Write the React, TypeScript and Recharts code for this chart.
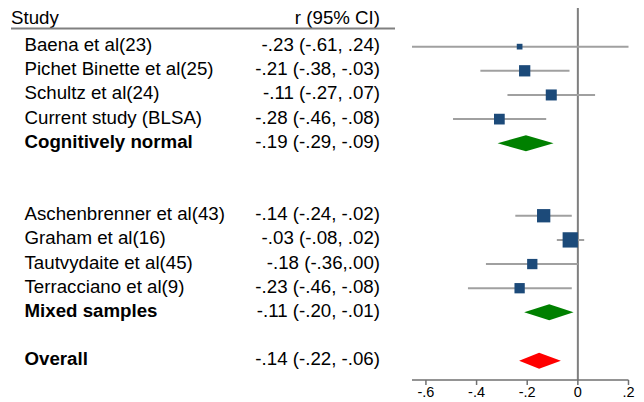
import React from "react";
import {
  ScatterChart,
  Scatter,
  XAxis,
  YAxis,
  ReferenceLine,
  ReferenceArea,
  Customized,
} from "recharts";

// ---- data ----
const studyNames = [
  "Baena et al(23)",
  "Pichet Binette et al(25)",
  "Schultz et al(24)",
  "Current study (BLSA)",
  "Aschenbrenner et al(43)",
  "Graham et al(16)",
  "Tautvydaite et al(45)",
  "Terracciano et al(9)",
];
const studyCI = [
  "-.23 (-.61, .24)",
  "-.21 (-.38, -.03)",
  "-.11 (-.27, .07)",
  "-.28 (-.46, -.08)",
  "-.14 (-.24, -.02)",
  "-.03 (-.08, .02)",
  "-.18 (-.36,.00)",
  "-.23 (-.46, -.08)",
];
const studyRow = [0, 1, 2, 3, 7, 8, 9, 10];
const studyEst = [-0.23, -0.21, -0.105, -0.31, -0.135, -0.03, -0.18, -0.23];
const studyLo = [-0.71, -0.385, -0.278, -0.493, -0.247, -0.083, -0.363, -0.434];
const studyHi = [0.245, -0.033, 0.068, -0.125, -0.024, 0.025, 0.0, -0.024];
const studyWeight = [3.2, 12.5, 11.9, 11.3, 17.4, 23.0, 10.4, 10.4];

const poolNames = ["Cognitively normal", "Mixed samples", "Overall"];
const poolCI = ["-.19 (-.29, -.09)", "-.11 (-.20, -.01)", "-.14 (-.22, -.06)"];
const poolRow = [4, 11, 13];
const poolEst = [-0.205, -0.113, -0.153];
const poolLo = [-0.317, -0.212, -0.232];
const poolHi = [-0.096, -0.017, -0.067];

const xTicks = [-0.6, -0.4, -0.2, 0, 0.2];
const xTickLabels = ["-.6", "-.4", "-.2", "0", ".2"];

// ---- styles ----
const FONT = "'Liberation Sans', Arial, Helvetica, sans-serif";
const POOL_COLORS = ["#008000", "#008000", "#ff0000"];
const SQUARE_COLOR = "#1c4a79";
const CI_COLOR = "#a0a0a0";
const TXT = 18.7;

const scatterData = studyEst.map((x, i) => ({ x, y: studyRow[i], w: studyWeight[i] }));

const rowInfo = new Map<number, { name: string; ci: string; bold: boolean }>();
studyRow.forEach((r, i) => rowInfo.set(r, { name: studyNames[i], ci: studyCI[i], bold: false }));
poolRow.forEach((r, i) => rowInfo.set(r, { name: poolNames[i], ci: poolCI[i], bold: true }));
const yTicks = [...studyRow, ...poolRow].sort((a, b) => a - b);

function RowTick(props: any) {
  const { y, payload } = props;
  const info = rowInfo.get(payload.value);
  if (!info) return <g />;
  return (
    <g>
      <text
        x={24.5}
        y={y + 4.5}
        fontSize={TXT}
        fontFamily={FONT}
        fontWeight={info.bold ? 700 : 400}
        fill="#000"
      >
        {info.name}
      </text>
      <text x={380} y={y + 4.5} fontSize={TXT} fontFamily={FONT} fill="#000" textAnchor="end">
        {info.ci}
      </text>
    </g>
  );
}

function XTick(props: any) {
  const { x, y, payload } = props;
  const idx = xTicks.indexOf(payload.value);
  const label = idx >= 0 ? xTickLabels[idx] : String(payload.value);
  return (
    <text x={x} y={y + 10} fontSize={14.5} fontFamily={FONT} fill="#000" textAnchor="middle">
      {label}
    </text>
  );
}

function Square(props: any) {
  const { cx, cy, payload } = props;
  const s = 3.19 * Math.sqrt(payload.w);
  return <rect x={cx - s / 2} y={cy - s / 2} width={s} height={s} fill={SQUARE_COLOR} />;
}

function makeDiamond(frac: number, color: string) {
  return (p: any) => {
    const { x, y, width, height } = p;
    const cy = y + height / 2;
    const h = 8;
    const mx = x + width * frac;
    const pts = `${x},${cy} ${mx},${cy - h} ${x + width},${cy} ${mx},${cy + h}`;
    return <polygon points={pts} fill={color} stroke="none" />;
  };
}

function Header() {
  return (
    <g>
      <text x={11} y={24} fontSize={TXT} fontFamily={FONT} fill="#000">
        Study
      </text>
      <text x={380} y={24} fontSize={TXT} fontFamily={FONT} fill="#000" textAnchor="end">
        r (95% CI)
      </text>
      <line x1={11} x2={395} y1={28.5} y2={28.5} stroke="#808080" strokeWidth={2} />
    </g>
  );
}

export default function App() {
  return (
    <div style={{ position: "absolute", left: 0, top: 0, width: 644, height: 402, background: "#fff" }}>
      <ScatterChart width={644} height={402} margin={{ top: 8, right: 15.5, bottom: 0, left: 0 }}>
        <XAxis
          type="number"
          dataKey="x"
          domain={[-0.655, 0.2]}
          allowDataOverflow
          ticks={xTicks}
          interval={0}
          height={22}
          tickSize={5}
          tickMargin={2}
          stroke="#707070"
          strokeWidth={1.5}
          tick={XTick}
        />
        <YAxis
          type="number"
          dataKey="y"
          domain={[-1.6, 13.8]}
          allowDataOverflow
          reversed
          ticks={yTicks}
          interval={0}
          width={412}
          axisLine={false}
          tickLine={false}
          tick={RowTick}
        />
        <Customized component={Header} />
        <ReferenceLine x={0} stroke="#7f7f7f" strokeWidth={2} ifOverflow="visible" />
        {studyRow.map((r, i) => (
          <ReferenceLine
            key={"ci" + i}
            segment={[
              { x: studyLo[i], y: r },
              { x: studyHi[i], y: r },
            ]}
            stroke={CI_COLOR}
            strokeWidth={2}
            ifOverflow="hidden"
          />
        ))}
        {poolRow.map((r, i) => (
          <ReferenceArea
            key={"pool" + i}
            x1={poolLo[i]}
            x2={poolHi[i]}
            y1={r - 0.33}
            y2={r + 0.33}
            ifOverflow="visible"
            shape={makeDiamond((poolEst[i] - poolLo[i]) / (poolHi[i] - poolLo[i]), POOL_COLORS[i])}
          />
        ))}
        <Scatter data={scatterData} shape={Square} isAnimationActive={false} />
      </ScatterChart>
    </div>
  );
}
